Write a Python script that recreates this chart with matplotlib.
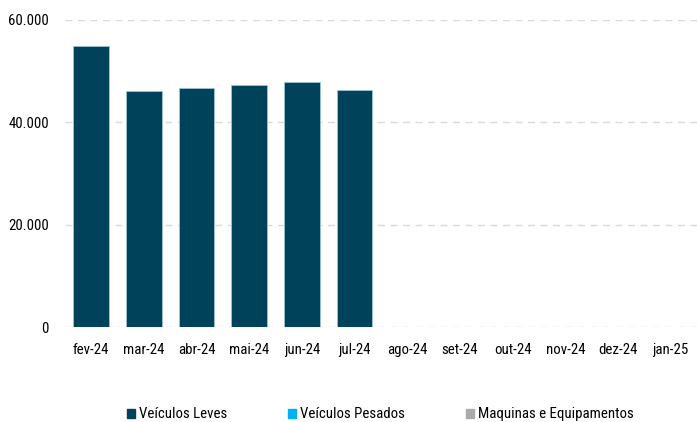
import matplotlib
matplotlib.use("Agg")
import matplotlib.pyplot as plt
from matplotlib.patches import Patch
from matplotlib.ticker import FuncFormatter

categories = ["fev-24", "mar-24", "abr-24", "mai-24", "jun-24", "jul-24",
              "ago-24", "set-24", "out-24", "nov-24", "dez-24", "jan-25"]
leves = [54800, 46050, 46650, 47200, 47800, 46250, 0, 0, 0, 0, 0, 0]
pesados = [0] * 12
maquinas = [0] * 12
yticks = [0, 20000, 40000, 60000]

plt.rcParams['font.family'] = ['Roboto Condensed', 'DejaVu Sans']
FS = 10.7

fig = plt.figure(figsize=(6.97, 4.22), dpi=100)
ax = fig.add_axes([0.093, 0.225, 0.907, 0.728])

x = list(range(len(categories)))
c_leves, c_pes, c_maq = "#004259", "#00B0F0", "#ABABAB"
ax.bar(x, leves, width=0.68, color=c_leves, edgecolor="#9FC3CF", linewidth=0.6, zorder=3)
ax.bar(x, pesados, width=0.68, bottom=leves, color=c_pes, zorder=3)
bottom3 = [a + b for a, b in zip(leves, pesados)]
ax.bar(x, maquinas, width=0.68, bottom=bottom3, color=c_maq, zorder=3)

ax.set_xlim(-0.5, len(categories) - 0.5)
ax.set_ylim(0, 60000)
ax.set_yticks(yticks)
ax.yaxis.set_major_formatter(FuncFormatter(lambda v, p: f"{int(v):,}".replace(",", ".")))
ax.set_xticks(x)
ax.set_xticklabels(categories)
ax.tick_params(axis='both', length=0, labelsize=FS, colors="#000000")
ax.tick_params(axis='y', pad=11.5)
ax.tick_params(axis='x', pad=11.5)
for s in ax.spines.values():
    s.set_visible(False)
ax.grid(axis='y', color="#D9D9D9", linestyle=(0, (5, 4)), linewidth=1.0, zorder=0)
ax.set_axisbelow(True)

handles = [Patch(color=c_leves, label="Veículos Leves"),
           Patch(color=c_pes, label="Veículos Pesados"),
           Patch(color=c_maq, label="Maquinas e Equipamentos")]
fig.legend(handles=handles, loc="center", bbox_to_anchor=(0.546, 0.018), ncol=3,
           frameon=False, fontsize=FS, handlelength=0.55, handleheight=0.55,
           handletextpad=0.27, columnspacing=4.1)

fig.savefig("out.png", dpi=100)
